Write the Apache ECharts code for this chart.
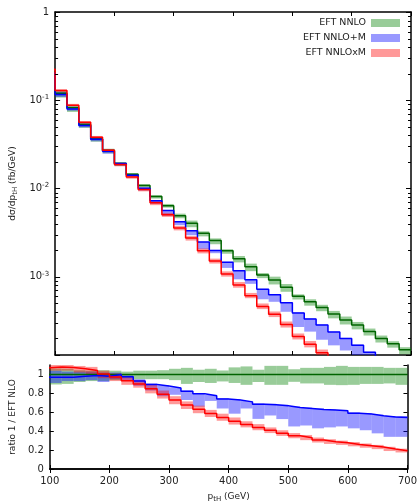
<!DOCTYPE html>
<html><head><meta charset="utf-8">
<script src="https://cdn.jsdelivr.net/npm/echarts@6/dist/echarts.min.js"></script>
<style>html,body{margin:0;padding:0;background:#fff}#c{width:420px;height:504px}</style>
</head><body><div id="c"></div><script>
// ---- data ----
const binEdges = [80,100,120,140,160,180,200,220,240,260,280,300,320,340,360,380,400,420,440,460,480,500,520,540,560,580,600,620,640,660,680,700];
// EFT NNLO central (fb/GeV)
const nnlo = [0.21,0.12,0.082,0.053,0.0365,0.027,0.0192,0.0145,0.0108,0.0081,0.0064,0.0049,0.00405,0.00312,0.00257,0.00197,0.0016,0.0013,0.00105,0.00092,0.00076,0.0006,0.00052,0.00045,0.00038,0.000325,0.000285,0.00024,0.0002,0.000174,0.000149];
// ratios to reference
const ratioNNLO     = [1,1,1,1,1,1,1,1,1,1,1,1,1,1,1,1,1,1,1,1,1,1,1,1,1,1,1,1,1,1,1];
const ratioNNLOLow  = [0.91,0.894,0.90,0.92,0.93,0.93,0.94,0.96,0.95,0.95,0.95,0.94,0.90,0.92,0.91,0.926,0.91,0.89,0.92,0.89,0.89,0.922,0.905,0.905,0.89,0.887,0.89,0.90,0.90,0.905,0.89];
const ratioNNLOHigh = [1.06,1.063,1.06,1.045,1.04,1.045,1.04,1.03,1.04,1.04,1.045,1.06,1.07,1.05,1.06,1.042,1.075,1.085,1.05,1.091,1.091,1.055,1.07,1.07,1.08,1.091,1.08,1.08,1.08,1.07,1.07];
const ratioM     = [0.97,0.97,0.97,0.98,0.99,0.98,1.0,0.975,0.93,0.895,0.878,0.857,0.822,0.795,0.775,0.74,0.73,0.71,0.686,0.68,0.67,0.65,0.641,0.63,0.623,0.616,0.59,0.581,0.563,0.549,0.546];
const ratioMLow  = [0.93,0.91,0.93,0.93,0.94,0.92,0.95,0.93,0.88,0.83,0.77,0.785,0.73,0.66,0.72,0.64,0.585,0.64,0.53,0.566,0.528,0.45,0.46,0.43,0.44,0.45,0.43,0.41,0.377,0.34,0.34];
const ratioMHigh = [1.0,1.04,1.03,1.03,1.03,1.02,1.02,0.99,0.95,0.905,0.885,0.865,0.83,0.80,0.785,0.75,0.74,0.72,0.695,0.69,0.68,0.66,0.65,0.64,0.63,0.625,0.60,0.59,0.575,0.56,0.56];
const ratioXM     = [1.07,1.078,1.074,1.06,1.043,1.005,0.972,0.933,0.90,0.85,0.79,0.73,0.678,0.633,0.586,0.546,0.506,0.47,0.44,0.41,0.378,0.352,0.331,0.306,0.288,0.278,0.26,0.246,0.232,0.211,0.193];
const ratioXMLow  = [1.03,1.04,1.04,1.02,1.0,0.96,0.93,0.89,0.86,0.80,0.745,0.685,0.635,0.59,0.55,0.51,0.47,0.44,0.41,0.38,0.35,0.325,0.305,0.28,0.265,0.255,0.24,0.225,0.21,0.19,0.175];
const ratioXMHigh = [1.1,1.11,1.11,1.09,1.08,1.04,1.01,0.97,0.94,0.89,0.83,0.77,0.715,0.67,0.625,0.585,0.545,0.505,0.475,0.44,0.41,0.38,0.36,0.333,0.315,0.30,0.285,0.27,0.255,0.235,0.215];
const minorLogTicks = [0.0002,0.0003,0.0004,0.0005,0.0006,0.0007,0.0008,0.0009,0.002,0.003,0.004,0.005,0.006,0.007,0.008,0.009,0.02,0.03,0.04,0.05,0.06,0.07,0.08,0.09,0.2,0.3,0.4,0.5,0.6,0.7,0.8,0.9];
const seriesNames = ['EFT NNLO','EFT NNLO+M','EFT NNLOxM'];

// ---- styles ----
const lineColors = ['#006400','#0000ff','#ff0000'];
const bandColors = ['rgba(0,128,0,0.4)','rgba(0,0,255,0.4)','rgba(255,0,0,0.4)'];
const FONT = 'DejaVu Sans';
const TXT = '#222';

const ratios = [[ratioNNLO,ratioNNLOLow,ratioNNLOHigh],[ratioM,ratioMLow,ratioMHigh],[ratioXM,ratioXMLow,ratioXMHigh]];

function stepData(vals){
  const pts = vals.map((v,i)=>[binEdges[i], v]);
  pts.push([binEdges[vals.length], vals[vals.length-1]]);
  return pts;
}
function bandData(low, high){
  return low.map((l,i)=>[binEdges[i], binEdges[i+1], l, high[i]]);
}
function bandRender(color){
  return function(params, api){
    const p0 = api.coord([api.value(0), api.value(3)]);
    const p1 = api.coord([api.value(1), api.value(2)]);
    const cs = params.coordSys;
    const r = echarts.graphic.clipRectByRect(
      {x:p0[0], y:p0[1], width:p1[0]-p0[0], height:p1[1]-p0[1]},
      {x:cs.x, y:cs.y, width:cs.width, height:cs.height});
    if(!r) return;
    return {type:'rect', shape:r, style:{fill:color}};
  };
}

const series = [];
// top panel bands
ratios.forEach((r,k)=>{
  const low = nnlo.map((g,i)=>g*r[1][i]);
  const high = nnlo.map((g,i)=>g*r[2][i]);
  series.push({type:'custom', name:seriesNames[k], xAxisIndex:0, yAxisIndex:0,
    itemStyle:{color:bandColors[k]}, renderItem:bandRender(bandColors[k]),
    encode:{x:[0,1], y:[2,3]}, data:bandData(low,high), silent:true, z:2});
});
// top panel lines
ratios.forEach((r,k)=>{
  const c = nnlo.map((g,i)=>g*r[0][i]);
  series.push({type:'line', name:seriesNames[k]+' central', xAxisIndex:0, yAxisIndex:0,
    step:'end', showSymbol:false, clip:true, data:stepData(c),
    lineStyle:{color:lineColors[k], width:1.5}, itemStyle:{color:lineColors[k]}, z:3, silent:true});
});
// ratio panel bands
ratios.forEach((r,k)=>{
  series.push({type:'custom', name:'ratio band '+k, xAxisIndex:2, yAxisIndex:2,
    itemStyle:{color:bandColors[k]}, renderItem:bandRender(bandColors[k]),
    encode:{x:[0,1], y:[2,3]}, data:bandData(r[1],r[2]), silent:true, z:2});
});
// ratio panel lines
ratios.forEach((r,k)=>{
  series.push({type:'line', name:'ratio line '+k, xAxisIndex:2, yAxisIndex:2,
    step:'end', showSymbol:false, clip:true, data:stepData(r[0]),
    lineStyle:{color:lineColors[k], width:1.5}, itemStyle:{color:lineColors[k]}, z:3, silent:true});
});
// minor log ticks (left and right) for top panel
series.push({type:'custom', name:'minor ticks', xAxisIndex:0, yAxisIndex:0, silent:true, z:5,
  encode:{x:0, y:1}, data:minorLogTicks.map(v=>[100, v]),
  renderItem:function(params, api){
    const p = api.coord([api.value(0), api.value(1)]);
    const cs = params.coordSys;
    const y = Math.round(p[1]) + 0.5;
    return {type:'group', children:[
      {type:'line', shape:{x1:cs.x, y1:y, x2:cs.x+3, y2:y}, style:{stroke:'#000', lineWidth:1}},
      {type:'line', shape:{x1:cs.x+cs.width-3, y1:y, x2:cs.x+cs.width, y2:y}, style:{stroke:'#000', lineWidth:1}}
    ]};
  }});

const axisLine = {show:true, lineStyle:{color:'#000', width:1.5}};
const tickIn = (len)=>({show:true, inside:true, length:len, lineStyle:{color:'#000', width:1}});

function logFmt(v){
  const e = Math.log10(v), r = Math.round(e);
  if (Math.abs(e-r) > 1e-6) return '';
  if (r === 0) return '1';
  return '10{sup|' + r + '}';
}

const option = {
  animation:false,
  textStyle:{fontFamily:FONT},
  grid:[
    {left:49, top:12, width:362, height:343},
    {left:49, top:365, width:362, height:104}
  ],
  legend:{
    orient:'vertical', right:15, top:13, align:'right',
    itemWidth:29, itemHeight:8, itemGap:5,
    textStyle:{fontSize:9.5, color:TXT, fontFamily:FONT},
    data:seriesNames.map(n=>({name:n, icon:'rect'})),
    selectedMode:false
  },
  xAxis:[
    {gridIndex:0, type:'value', min:100, max:700, interval:100, position:'bottom',
      axisLine:axisLine, axisTick:tickIn(4), axisLabel:{show:false}, splitLine:{show:false}},
    {gridIndex:0, type:'value', min:100, max:700, interval:100, position:'top',
      axisLine:axisLine, axisTick:tickIn(4), axisLabel:{show:false}, splitLine:{show:false}},
    {gridIndex:1, type:'value', min:100, max:700, interval:100, position:'bottom',
      axisLine:axisLine, axisTick:tickIn(4),
      axisLabel:{color:TXT, fontSize:10, margin:7, fontFamily:FONT}, splitLine:{show:false},
      name:'p{sub|tH} (GeV)', nameLocation:'middle', nameGap:22,
      nameTextStyle:{fontSize:9, color:TXT, fontFamily:FONT, rich:{sub:{fontSize:7, color:TXT, fontFamily:FONT, padding:[5,0,0,0]}}}},
    {gridIndex:1, type:'value', min:100, max:700, interval:100, position:'top',
      axisLine:axisLine, axisTick:tickIn(4), axisLabel:{show:false}, splitLine:{show:false}}
  ],
  yAxis:[
    {gridIndex:0, type:'log', logBase:10, min:1.3e-4, max:1, position:'left',
      axisLine:axisLine, axisTick:tickIn(5), splitLine:{show:false},
      axisLabel:{color:TXT, fontSize:10, margin:6, fontFamily:FONT, formatter:logFmt,
        rich:{sup:{fontSize:7, color:TXT, fontFamily:FONT, padding:[0,0,6,0]}}},
      name:'d\u03c3/dp{sub|tH} (fb/GeV)', nameLocation:'middle', nameGap:30, nameRotate:90,
      nameTextStyle:{fontSize:9, color:TXT, fontFamily:FONT, rich:{sub:{fontSize:7, color:TXT, fontFamily:FONT, padding:[5,0,0,0]}}}},
    {gridIndex:0, type:'log', logBase:10, min:1.3e-4, max:1, position:'right',
      axisLine:axisLine, axisTick:tickIn(5), splitLine:{show:false}, axisLabel:{show:false}},
    {gridIndex:1, type:'value', min:0, max:1.1, interval:0.2, position:'left',
      axisLine:axisLine, axisTick:tickIn(4), splitLine:{show:false},
      axisLabel:{color:TXT, fontSize:10, margin:6, fontFamily:FONT, showMaxLabel:false},
      name:'ratio 1 / EFT NLO', nameLocation:'middle', nameGap:30, nameRotate:90,
      nameTextStyle:{fontSize:9, color:TXT, fontFamily:FONT}},
    {gridIndex:1, type:'value', min:0, max:1.1, interval:0.2, position:'right',
      axisLine:axisLine, axisTick:tickIn(4), splitLine:{show:false}, axisLabel:{show:false}}
  ],
  series:series
};
const chart = echarts.init(document.getElementById('c'), null, {renderer:'canvas'});
chart.setOption(option);
</script></body></html>
